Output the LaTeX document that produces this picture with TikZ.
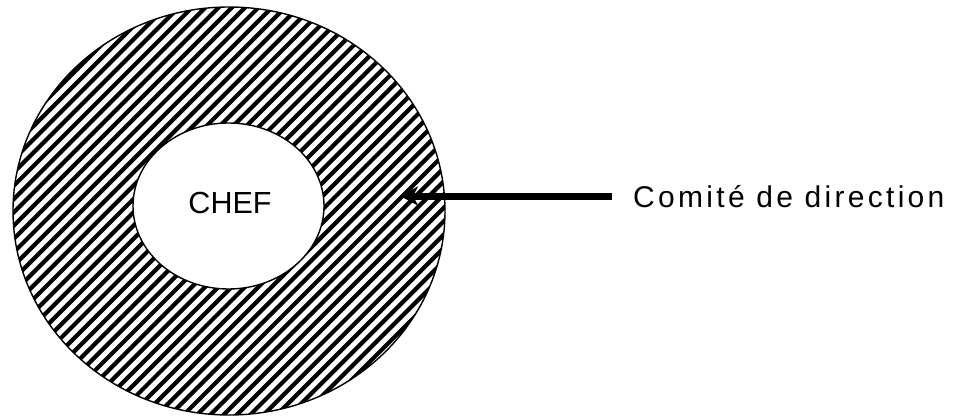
\documentclass[tikz,border=0pt]{standalone}
\usepackage{fontspec}
\setmainfont{Liberation Sans}
\newfontfamily\spacedfont[LetterSpace=11]{Liberation Sans}
\usetikzlibrary{arrows.meta,shapes.geometric}
\tikzset{
  ring/.style={draw=black, line width=1.4pt},
  hatchline/.style={line width=4.2pt, black},
  pointer/.style={line width=7pt, -{Stealth[length=18pt,width=19pt,inset=5pt]}},
}
\begin{document}
\begin{tikzpicture}[x=1pt,y=-1pt]
\useasboundingbox (0,0) rectangle (963,417);
\fill[white] (0,0) rectangle (963,417);
% hatched ring
\begin{scope}
  \clip (229,211) ellipse [x radius=216, y radius=204];
  \foreach \k in {0,13.3,...,890} {
    \draw[hatchline] (\k,0) -- (\k-420,420);
  }
\end{scope}
\node[ring, ellipse, minimum width=432pt, minimum height=408pt, inner sep=0] (outer) at (229,211) {};
\fill[white] (228.5,206) ellipse [x radius=95.5, y radius=83];
\node[ring, ellipse, minimum width=191pt, minimum height=166pt, inner sep=0] (chef) at (228.5,206) {};
\node[font=\fontsize{30.5}{36}\selectfont, inner sep=0, anchor=base] (cheftext) at (230,213) {CHEF};
% label and arrow
\node[font=\spacedfont\fontsize{30}{36}\selectfont, inner sep=0, anchor=base west] (label) at (633,207) {Comité de direction};
\coordinate (tip) at (400,196);
\draw[pointer, shorten <=21pt] (label.west |- tip) -- (tip);
\end{tikzpicture}
\end{document}
